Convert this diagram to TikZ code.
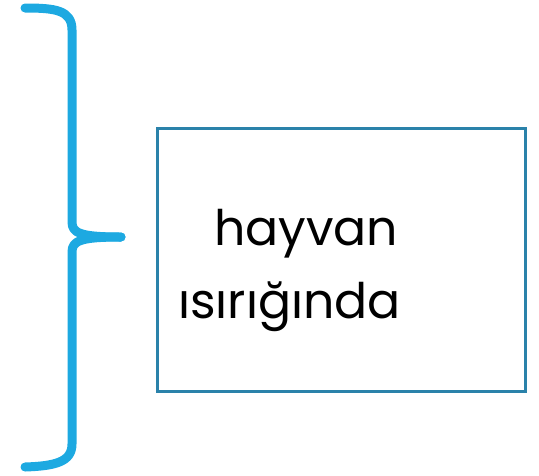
\documentclass[tikz,border=0pt]{standalone}
\usepackage{fontspec}
\setmainfont{Poppins}
\definecolor{bracecol}{HTML}{1DA9E1}
\definecolor{boxcol}{HTML}{2A82AA}
\tikzset{
  bracestroke/.style={draw=bracecol, line width=9pt, line cap=round, line join=round},
  textbox/.style={draw=boxcol, line width=3pt},
  boxlabel/.style={align=left, font=\fontsize{49}{73}\selectfont, inner sep=0pt, anchor=base west}
}
\begin{document}
\begin{tikzpicture}[x=1pt, y=-1pt]
  \useasboundingbox (0,0) rectangle (539,475);
  % curly brace: upper and lower arms meeting at the tip
  \coordinate (tip) at (121,237);
  \draw[bracestroke] (25,8) .. controls (55,8) and (72,10) .. (72,30)
     -- (72,222) .. controls (72,233) and (80,237) .. (tip);
  \draw[bracestroke] (25,467) .. controls (55,466) and (72,462) .. (72,444)
     -- (72,252) .. controls (72,241) and (80,237) .. (tip);
  % framed label
  \draw[textbox] (157,128) rectangle (525,391);
  \node[boxlabel] (label) at (178,318) {\hspace*{36pt}hayvan\\ısırığında};
\end{tikzpicture}
\end{document}
